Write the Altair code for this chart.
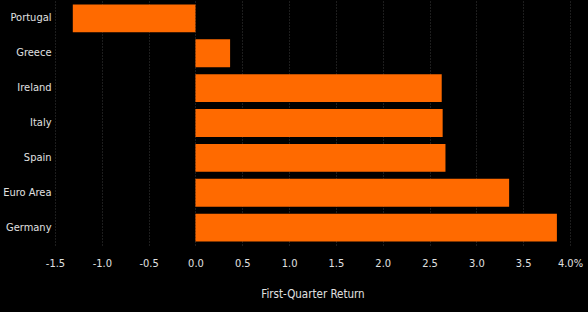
import altair as alt
import pandas as pd

countries = ["Portugal", "Greece", "Ireland", "Italy", "Spain", "Euro Area", "Germany"]
returns = [-1.31, 0.37, 2.63, 2.64, 2.67, 3.35, 3.86]

df = pd.DataFrame({"country": countries, "ret": returns})
FONT = "Liberation Sans Narrow, DejaVu Sans Condensed, sans-serif"

chart = alt.Chart(df).mark_bar(color="#FF6A00").encode(
    x=alt.X("ret:Q",
            scale=alt.Scale(domain=[-1.5, 4.0], nice=False, zero=False),
            axis=alt.Axis(values=[-1.5, -1.0, -0.5, 0.0, 0.5, 1.0, 1.5, 2.0, 2.5, 3.0, 3.5, 4.0],
                          labelExpr="datum.value == 4 ? '4.0%' : replace(format(datum.value, '.1f'), '\u2212', '-')",
                          title="First-Quarter Return",
                          grid=True, gridColor="#3a3a3a", gridDash=[1, 2], gridWidth=1,
                          domain=False, ticks=False,
                          labelColor="#e0e0e0", labelFont=FONT, labelFontSize=11,
                          labelPadding=12, labelFlush=False,
                          titleColor="#e0e0e0", titleFont=FONT, titleFontSize=11.5,
                          titleFontWeight="normal", titlePadding=20)),
    y=alt.Y("country:N", sort=countries,
            scale=alt.Scale(paddingInner=0.2, paddingOuter=0.1),
            axis=alt.Axis(title=None, domain=False, ticks=False, grid=False,
                          labelColor="#e0e0e0", labelFont=FONT, labelFontSize=11,
                          labelPadding=4, labelLimit=60)),
).properties(
    width=515, height=244,
    background="black",
    padding={"left": 55, "top": 1, "right": 18, "bottom": 67},
    autosize=alt.AutoSizeParams(type="none"),
).configure_view(stroke=None)

chart.save("out.html", embed_options={"renderer": "svg", "actions": False})
